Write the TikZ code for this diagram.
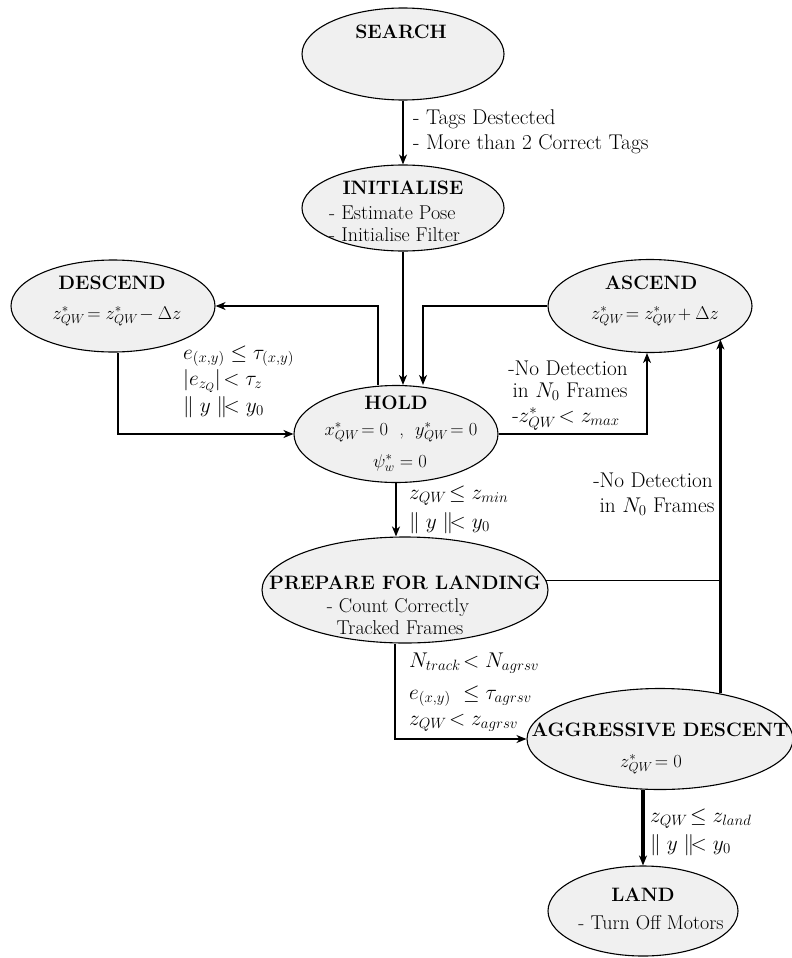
\RequirePackage{fix-cm}
\documentclass[tikz,border=0pt]{standalone}
\usepackage{amsmath}
\usepackage{fontspec}
\usetikzlibrary{shapes.geometric,arrows.meta,calc}
\newcommand\fsz{\fontsize{20}{24}\selectfont}
\newcommand\fbf{\fontsize{19.4}{24}\selectfont\bfseries}
\newcommand\fst{\fontsize{18.5}{24}\selectfont}
\newcommand\flb{\fontsize{21.3}{25}\selectfont}
\begin{document}
\begin{tikzpicture}[x=1pt,y=-1pt,
  st/.style={ellipse,draw,line width=1.1pt,fill=black!6,inner sep=0pt},
  tx/.style={font=\fsz,inner sep=0pt,anchor=base},
  ttl/.style={tx,font=\fbf},
  frm/.style={tx,font=\fst},
  lb/.style={tx,font=\flb},
  lbl/.style={lb,anchor=base west},
  txl/.style={tx,anchor=base west},
  ln/.style={line width=1.1pt},
  arr/.style={ln,-{Stealth[length=10pt,width=8pt,inset=3pt]}},
  arrm/.style={arr,line width=1.8pt},
  arrt/.style={arr,line width=3.2pt}]
\useasboundingbox (0,0) rectangle (792,958);
% states
\node[st,minimum width=202pt,minimum height=92pt] (search) at (403,54) {};
\node[st,minimum width=202pt,minimum height=86pt] (init) at (403,208) {};
\node[st,minimum width=204pt,minimum height=92pt] (descend) at (113,306) {};
\node[st,minimum width=204pt,minimum height=93pt] (ascend) at (650,306) {};
\node[st,minimum width=204pt,minimum height=97pt] (hold) at (396,434) {};
\node[st,minimum width=286pt,minimum height=106pt] (prep) at (405,590) {};
\node[st,minimum width=266pt,minimum height=101pt] (aggr) at (660,739) {};
\node[st,minimum width=190pt,minimum height=90pt] (land) at (643,911) {};
% state texts
\node[ttl] (tsearch) at (401,39) {SEARCH};
\node[ttl] (tinit) at (403,194) {INITIALISE};
\node[txl] (ti1) at (329,219) {- Estimate Pose};
\node[txl] (ti2) at (329,241) {- Initialise Filter};
\node[ttl] (tdes) at (112,289) {DESCEND};
\node[frm] (fdes) at (117,319) {$z^*_{QW}\!= z^*_{QW}\!-\Delta z$};
\node[ttl] (tasc) at (651,289) {ASCEND};
\node[frm] (fasc) at (655,319) {$z^*_{QW}\!= z^*_{QW}\!+\Delta z$};
\node[ttl] (thold) at (396,409) {HOLD};
\node[frm] (fh1) at (401,435) {$x^*_{QW}\!= 0$ \ , \ $y^*_{QW}\!= 0$};
\node[frm] (fh2) at (400,467) {$\psi^*_w = 0$};
\node[ttl] (tprep) at (405,589) {PREPARE FOR LANDING};
\node[tx] (p1) at (398,612) {- Count Correctly};
\node[tx] (p2) at (400,634) {Tracked Frames};
\node[ttl] (tagg) at (660,736) {AGGRESSIVE DESCENT};
\node[frm] (fagg) at (651,767) {$z^*_{QW}\!= 0$};
\node[ttl] (tland) at (643,901) {LAND};
\node[tx] (tl1) at (651,929) {- Turn Off Motors};
% transition labels
\node[lbl] (lt1) at (413,124) {- Tags Destected};
\node[lbl] (lt2) at (413,149) {- More than 2 Correct Tags};
\node[lbl] (c1) at (183,359) {$e_{(x,y)} \leq \tau_{(x,y)}$};
\node[lbl] (c2) at (183,385) {$|e_{\smash{z_Q}}|\!< \tau_z$};
\node[lbl] (c3) at (183,412) {$\parallel y \parallel\!< y_0$};
\node[lb] (a1) at (568,375) {-No Detection};
\node[lb] (a2) at (570,397) {in $N_0$ Frames};
\node[lb] (a3) at (566,422) {-$z^*_{QW}\!< z_{max}$};
\node[lb] (r1) at (653,487) {-No Detection};
\node[lb] (r2) at (657,512) {in $N_0$ Frames};
\node[lbl] (h1) at (409,499) {$z_{\smash{QW}}\!\leq z_{min}$};
\node[lbl] (h2) at (409,528) {$\parallel y \parallel\!< y_0$};
\node[lbl] (g1) at (409,667) {$N_{track}\!< N_{agrsv}$};
\node[lbl] (g2) at (409,699) {$e_{(x,y)}\ \leq \tau_{agrsv}$};
\node[lbl] (g3) at (409,725) {$z_{QW}\!< z_{agrsv}$};
\node[lbl] (l1) at (650,822) {$z_{\smash{QW}}\!\leq z_{land}$};
\node[lbl] (l2) at (650,850) {$\parallel y \parallel\!< y_0$};
% transitions
\draw[arr] (search) -- (init);
\draw[arrm] (init.south) -- (init.south |- hold.north);
\draw[arr] ([xshift=-18pt]hold.north) |- (descend.east);
\draw[arr] ([xshift=5pt]descend.south) |- (hold.west);
\draw[arr] (ascend.west) -| ([xshift=27pt]hold.north);
\draw[arr] (hold.east) -| ([xshift=-3pt]ascend.south);
\draw[arrm] (hold.south) -- (hold.south |- prep.north);
\draw[arr] ([xshift=-10pt]prep.south) |- (aggr.west);
\draw[ln] (prep.4) -- (prep.4 -| aggr.37);
\draw[arrt] (aggr.37) -- (aggr.37 |- ascend.-25);
\draw[arrt] (aggr.south -| land.north) -- (land.north);
\end{tikzpicture}
\end{document}
